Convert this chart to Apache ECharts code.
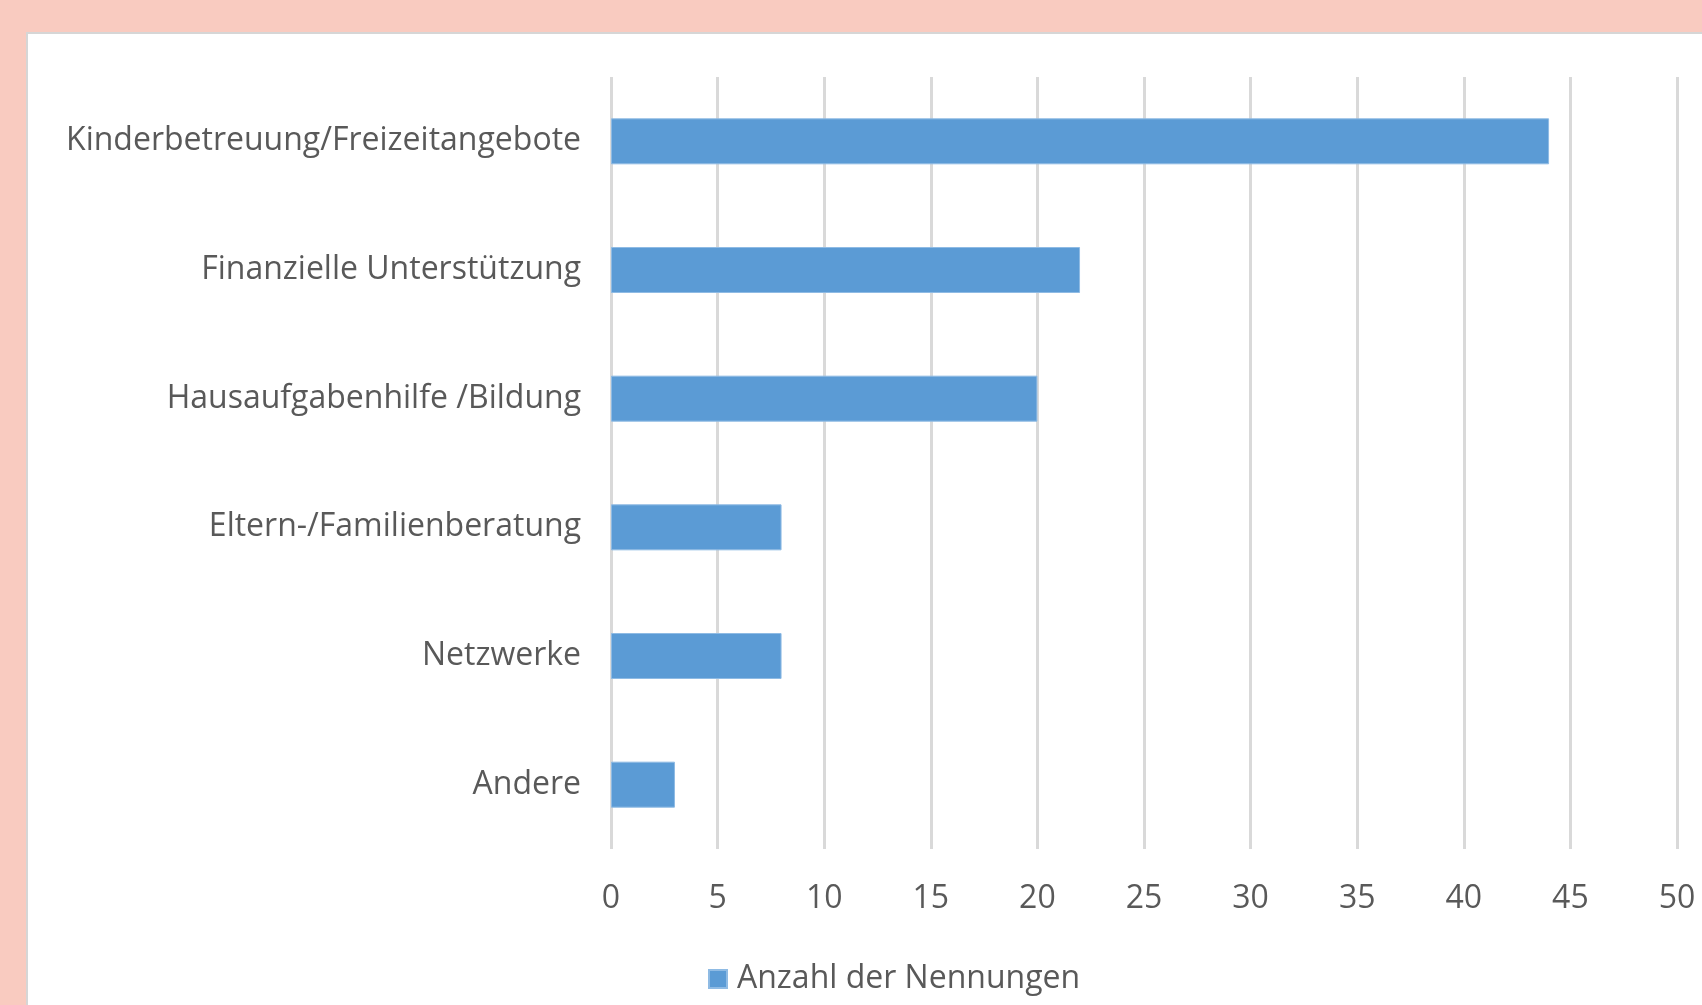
<!DOCTYPE html>
<html>
<head>
<meta charset="utf-8">
<title>Anzahl der Nennungen</title>
<script src="https://cdn.jsdelivr.net/npm/echarts@6/dist/echarts.min.js"></script>
<style>
  html, body { margin: 0; padding: 0; }
  body { width: 1702px; height: 1005px; background: #f9cbc0; position: relative; overflow: hidden; }
  /* weisses Panel mit grauer Kante oben/links */
  #panel { position: absolute; left: 26px; top: 32px; right: 0; bottom: 0;
           background: #fff; border-left: 2px solid #d6d6d6; border-top: 2px solid #d6d6d6; }
  #chart { position: absolute; left: 0; top: 0; width: 1702px; height: 1005px; }
</style>
</head>
<body>
<div id="panel"></div>
<div id="chart"></div>
<script>
// Kategorien (von oben nach unten)
const categories = [
  "Kinderbetreuung/Freizeitangebote",
  "Finanzielle Unterstützung",
  "Hausaufgabenhilfe /Bildung",
  "Eltern-/Familienberatung",
  "Netzwerke",
  "Andere"
];
// Anzahl der Nennungen
const counts = [44, 22, 20, 8, 8, 3];
const seriesName = "Anzahl der Nennungen";

const font = "'Open Sans', 'Noto Sans', sans-serif";
const textColor = "#595959";
const fs = 32;

const chart = echarts.init(document.getElementById("chart"));
const option = {
  backgroundColor: "transparent",
  animation: false,
  textStyle: { fontFamily: font },
  grid: { left: 611, right: 25, top: 77, bottom: 156, containLabel: false },
  legend: {
    data: [seriesName],
    left: 703,
    top: 958,
    icon: "rect",
    itemWidth: 18,
    itemHeight: 18,
    textStyle: { color: textColor, fontSize: fs, fontFamily: font, padding: [0, 0, 0, 5] }
  },
  xAxis: {
    type: "value",
    min: 0,
    max: 50,
    interval: 5,
    axisLine: { show: false },
    axisTick: { show: false },
    axisLabel: { color: textColor, fontSize: fs, margin: 34, fontFamily: font },
    splitLine: { show: true, lineStyle: { color: "#d9d9d9", width: 3 } }
  },
  yAxis: {
    type: "category",
    inverse: true,
    data: categories,
    axisLine: { show: false },
    axisTick: { show: false },
    axisLabel: { color: textColor, fontSize: fs, margin: 30, fontFamily: font, padding: [5, 0, 0, 0] }
  },
  series: [{
    name: seriesName,
    type: "bar",
    data: counts,
    barWidth: 46,
    itemStyle: { color: "#5b9bd5", borderColor: "#8fbbe4", borderWidth: 1 }
  }]
};
chart.setOption(option);
</script>
</body>
</html>
